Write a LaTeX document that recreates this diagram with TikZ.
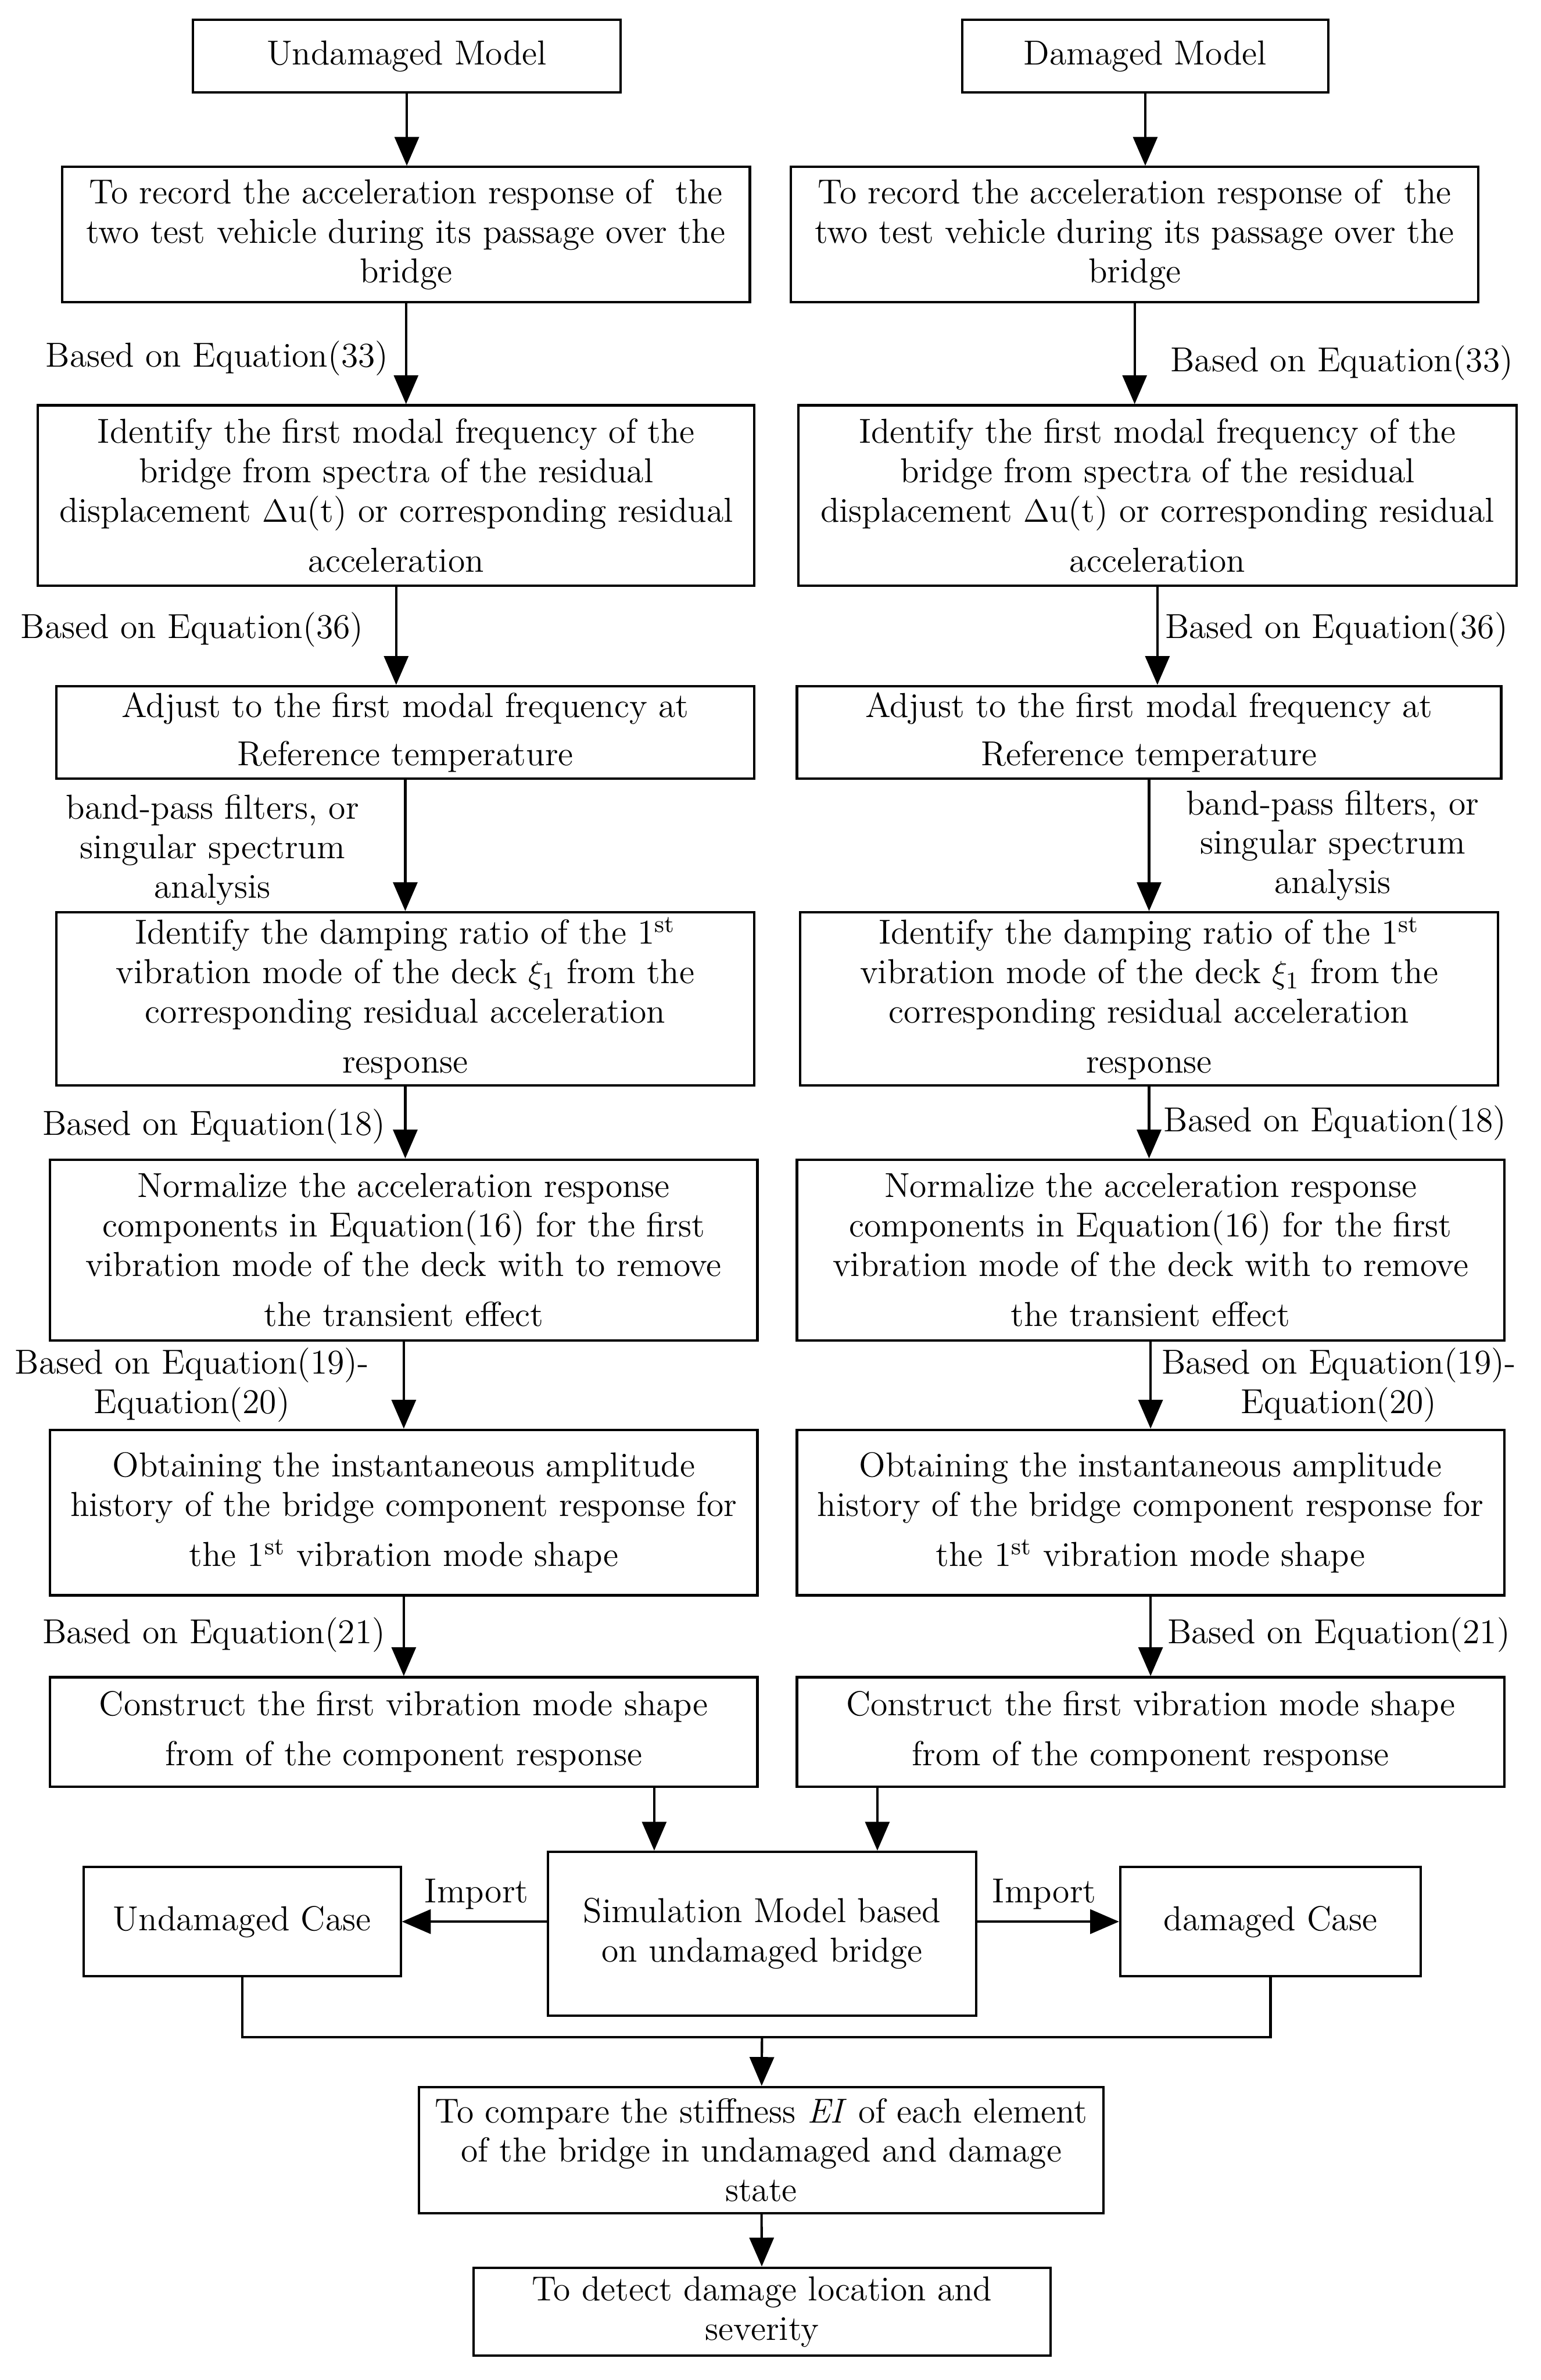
\documentclass[tikz,border=0pt]{standalone}
\usetikzlibrary{arrows.meta,positioning}
\begin{document}
\begin{tikzpicture}[
    blk/.style={draw, line width=0.9pt, align=center, inner sep=2pt, font=\fontsize{13}{14.8}\selectfont},
    lbl/.style={align=center, inner sep=0pt, font=\fontsize{13}{14.8}\selectfont},
    arr/.style={-{Triangle[length=0.38cm,width=0.32cm]}, line width=0.9pt},
    ln/.style={line width=0.9pt}
]
\useasboundingbox (0,0) rectangle (20.3,-31.36);

% undamaged column
\node[blk, minimum width=5.64cm, minimum height=0.96cm] (u0) at (5.36,-0.74) {Undamaged Model};
\node[blk, minimum width=9.06cm, minimum height=1.78cm] (u1) at (5.35,-3.09) {To record the acceleration response of \ the\\two test vehicle during its passage over the\\bridge};
\node[blk, minimum width=9.44cm, minimum height=2.38cm] (u2) at (5.22,-6.53) {Identify the first modal frequency of the\\bridge from spectra of the residual\\displacement $\Delta$u(t) or corresponding residual\\[0.14cm]acceleration};
\node[blk, minimum width=9.2cm, minimum height=1.22cm] (u3) at (5.34,-9.65) {Adjust to the first modal frequency at\\[0.12cm]Reference temperature};
\node[blk, minimum width=9.2cm, minimum height=2.28cm] (u4) at (5.34,-13.16) {Identify the damping ratio of the 1\textsuperscript{st}\\vibration mode of the deck $\xi_1$ from the\\corresponding residual acceleration\\[0.14cm]response};
\node[blk, minimum width=9.32cm, minimum height=2.38cm] (u5) at (5.32,-16.47) {Normalize the acceleration response\\components in Equation(16) for the first\\vibration mode of the deck with to remove\\[0.14cm]the transient effect};
\node[blk, minimum width=9.32cm, minimum height=2.18cm] (u6) at (5.32,-19.93) {Obtaining the instantaneous amplitude\\history of the bridge component response for\\[0.14cm]the 1\textsuperscript{st} vibration mode shape};
\node[blk, minimum width=9.32cm, minimum height=1.44cm] (u7) at (5.32,-22.82) {Construct the first vibration mode shape\\[0.14cm]from of the component response};

% damaged column
\node[blk, minimum width=4.82cm, minimum height=0.96cm] (d0) at (15.09,-0.74) {Damaged Model};
\node[blk, minimum width=9.06cm, minimum height=1.78cm] (d1) at (14.95,-3.09) {To record the acceleration response of \ the\\two test vehicle during its passage over the\\bridge};
\node[blk, minimum width=9.46cm, minimum height=2.38cm] (d2) at (15.25,-6.53) {Identify the first modal frequency of the\\bridge from spectra of the residual\\displacement $\Delta$u(t) or corresponding residual\\[0.14cm]acceleration};
\node[blk, minimum width=9.28cm, minimum height=1.22cm] (d3) at (15.14,-9.65) {Adjust to the first modal frequency at\\[0.12cm]Reference temperature};
\node[blk, minimum width=9.2cm, minimum height=2.28cm] (d4) at (15.14,-13.16) {Identify the damping ratio of the 1\textsuperscript{st}\\vibration mode of the deck $\xi_1$ from the\\corresponding residual acceleration\\[0.14cm]response};
\node[blk, minimum width=9.32cm, minimum height=2.38cm] (d5) at (15.16,-16.47) {Normalize the acceleration response\\components in Equation(16) for the first\\vibration mode of the deck with to remove\\[0.14cm]the transient effect};
\node[blk, minimum width=9.32cm, minimum height=2.18cm] (d6) at (15.16,-19.93) {Obtaining the instantaneous amplitude\\history of the bridge component response for\\[0.14cm]the 1\textsuperscript{st} vibration mode shape};
\node[blk, minimum width=9.32cm, minimum height=1.44cm] (d7) at (15.16,-22.82) {Construct the first vibration mode shape\\[0.14cm]from of the component response};

% bottom part
\node[blk, minimum width=4.18cm, minimum height=1.44cm] (uc) at (3.19,-25.32) {Undamaged Case};
\node[blk, minimum width=5.64cm, minimum height=2.16cm] (sim) at (10.04,-25.48) {Simulation Model based\\on undamaged bridge};
\node[blk, minimum width=3.96cm, minimum height=1.44cm] (dc) at (16.74,-25.32) {damaged Case};
\node[blk, minimum width=9.02cm, minimum height=1.66cm] (cmp) at (10.03,-28.33) {To compare the stiffness \textit{EI} of each element\\of the bridge in undamaged and damage\\state};
\node[blk, minimum width=7.6cm, minimum height=1.16cm] (det) at (10.04,-30.46) {To detect damage location and\\severity};

% labels
\node[lbl] (l33u) at (2.86,-4.72) {Based on Equation(33)};
\node[lbl] (l33d) at (17.68,-4.78) {Based on Equation(33)};
\node[lbl] (l36u) at (2.53,-8.30) {Based on Equation(36)};
\node[lbl] (l36d) at (17.61,-8.30) {Based on Equation(36)};
\node[lbl] (bpu) at (2.80,-11.20) {band-pass filters, or\\singular spectrum\\analysis};
\node[lbl] (bpd) at (17.56,-11.14) {band-pass filters, or\\singular spectrum\\analysis};
\node[lbl] (l18u) at (2.82,-14.84) {Based on Equation(18)};
\node[lbl] (l18d) at (17.59,-14.80) {Based on Equation(18)};
\node[lbl] (l19u) at (2.53,-18.25) {Based on Equation(19)-\\Equation(20)};
\node[lbl] (l19d) at (17.64,-18.25) {Based on Equation(19)-\\Equation(20)};
\node[lbl] (l21u) at (2.82,-21.54) {Based on Equation(21)};
\node[lbl] (l21d) at (17.64,-21.54) {Based on Equation(21)};
\node[lbl] (impu) at (6.28,-24.96) {Import};
\node[lbl] (impd) at (13.76,-24.96) {Import};

% column arrows
\foreach \a/\b in {u0/u1,u1/u2,u2/u3,u3/u4,u4/u5,u5/u6,u6/u7,d0/d1,d1/d2,d2/d3,d3/d4,d4/d5,d5/d6,d6/d7}
    \draw[arr] (\a) -- (\a |- \b.north);

\coordinate (jl) at (8.62,0);
\coordinate (jr) at (11.56,0);
\coordinate (mrg) at (10.04,-26.84);
\draw[arr] (u7.south -| jl) -- (sim.north -| jl);
\draw[arr] (d7.south -| jr) -- (sim.north -| jr);
\draw[arr] (sim.west |- uc) -- (uc);
\draw[arr] (sim.east |- dc) -- (dc);
\draw[ln] (uc) |- (mrg) -| (dc);
\draw[arr] (mrg) -- (cmp);
\draw[arr] (cmp) -- (det);
\end{tikzpicture}
\end{document}
